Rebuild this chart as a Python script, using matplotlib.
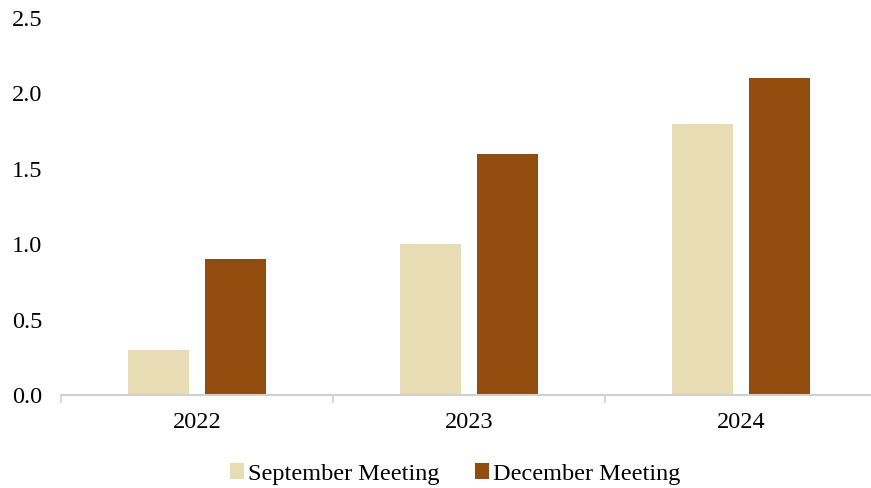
import numpy as np
import matplotlib
matplotlib.use("Agg")
import matplotlib.pyplot as plt

plt.rcParams['font.family'] = ['Liberation Serif', 'DejaVu Serif']

years = ['2022', '2023', '2024']
september = [0.3, 1.0, 1.8]
december = [0.9, 1.6, 2.1]

sep_color = '#E8DCB4'
dec_color = '#934B0E'
fs = 17.5

fig = plt.figure(figsize=(8.71, 4.88), dpi=100)
ax = fig.add_axes([61 / 871, 1 - 395 / 488, (877 - 61) / 871, (395 - 18) / 488])

centers = np.arange(len(years)) + 0.5
width = 0.224
offset = 0.1415
ax.bar(centers - offset, september, width, color=sep_color, label='September Meeting')
ax.bar(centers + offset, december, width, color=dec_color, label='December Meeting')

ax.set_xlim(0, len(years))
ax.set_ylim(0, 2.5)
ax.set_yticks(np.arange(0, 2.51, 0.5))
ax.set_yticklabels([f'{v:.1f}' for v in np.arange(0, 2.51, 0.5)], fontsize=fs)
ax.tick_params(axis='y', length=0, pad=13.5)

# category labels in the middle, boundary ticks on the major locator
ax.set_xticks(np.arange(len(years) + 1))
ax.set_xticklabels([])
ax.tick_params(axis='x', which='major', length=6, color='#D0D0D0', width=1.2)
ax.set_xticks(centers, minor=True)
ax.set_xticklabels(years, minor=True, fontsize=fs)
ax.tick_params(axis='x', which='minor', length=0, pad=12)

for side in ['top', 'right', 'left']:
    ax.spines[side].set_visible(False)
ax.spines['bottom'].set_color('#D0D0D0')
ax.spines['bottom'].set_linewidth(1.5)

fig.legend(loc='center', bbox_to_anchor=(455 / 871, 1 - 474 / 488), ncol=2, frameon=False,
           fontsize=fs, handlelength=0.6, handleheight=0.6, handletextpad=0.15,
           columnspacing=1.45)

fig.savefig('out.png', dpi=100)
